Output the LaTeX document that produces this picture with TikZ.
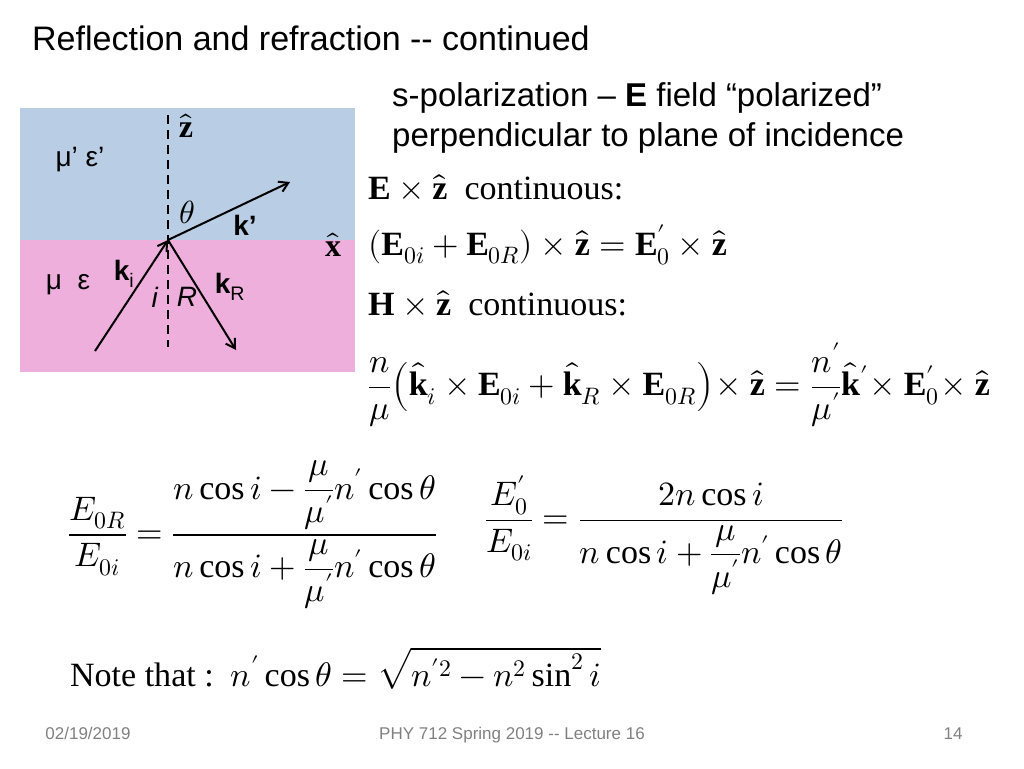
\documentclass[tikz,border=0pt]{standalone}
\usepackage{amsmath}
\usepackage{fontspec}
\usepackage{unicode-math}
\setmathfont{Latin Modern Math}
\setmainfont{Liberation Serif}
\setsansfont{Liberation Sans}
\usetikzlibrary{arrows.meta}
\definecolor{topc}{RGB}{185,205,228}
\definecolor{botc}{RGB}{238,175,220}
\tikzset{
 ray/.style={line width=2pt,-{Straight Barb[length=9pt,width=11pt]}},
 lab/.style={font=\sffamily\fontsize{28}{32}\selectfont,inner sep=0pt},
 eq/.style={anchor=west,inner sep=0pt,font=\fontsize{34}{38}\selectfont},
 foot/.style={font=\sffamily\fontsize{17}{20}\selectfont,text=gray,inner sep=0pt,anchor=base}
}
\newcommand{\vb}[1]{\mathbf{#1}}
\begin{document}
\begin{tikzpicture}[x=1pt,y=-1pt]
\useasboundingbox (0,0) rectangle (1024,768);
\fill[topc] (20,108) rectangle (355,240);
\fill[botc] (20,240) rectangle (355,372);
\coordinate (o) at (168,240);
\coordinate (zt) at (168,115);
\coordinate (zb) at (168,347);
\coordinate (kp) at (290,182);
\coordinate (ks) at (95,351);
\coordinate (kr) at (236,350);
\draw[dashed,line width=1.8pt,dash pattern=on 9pt off 6pt] (zt) -- (zb);
\draw[ray] (o) -- (kp);
\draw[ray] (ks) -- (o);
\draw[ray] (o) -- (kr);
\node[inner sep=0pt,font=\fontsize{32}{36}\selectfont] (zh) at (186,126) {$\hat{\mathbf z}$};
\node[inner sep=0pt,font=\fontsize{32}{36}\selectfont] (xh) at (333,245) {$\hat{\mathbf x}$};
\node[inner sep=0pt,font=\fontsize{32}{36}\selectfont] (th) at (187,212) {$\theta$};
\node[lab] (mp) at (80,160) {μ’ ε’};
\node[lab] (me) at (68,285) {μ\ \ ε};
\node[lab,font=\sffamily\bfseries\fontsize{28}{32}\selectfont] (kpl) at (245,225) {k’};
\node[lab] (kil) at (124,274) {\textbf{k}\textsubscript{i}};
\node[lab] (il) at (155,297) {\textit{i}};
\node[lab] (Rl) at (187,297) {\textit{R}};
\node[lab] (krl) at (230,287) {\textbf{k}\textsubscript{R}};
\node[anchor=west,inner sep=0pt,font=\sffamily\fontsize{34}{38}\selectfont] (title) at (32,38) {Reflection and refraction -{}- continued};
\node[anchor=west,inner sep=0pt,font=\sffamily\fontsize{33}{36}\selectfont] (s1) at (392,98) {s-polarization – \textbf{E} field “polarized”};
\node[anchor=west,inner sep=0pt,font=\sffamily\fontsize{33}{36}\selectfont] (s2) at (392,138) {perpendicular to plane of incidence};
\node[eq] (e1) at (368,187) {$\vb E\times\hat{\vb z}$\ \ continuous:};
\node[eq] (e2) at (368,245) {$\left(\vb E_{0i}+\vb E_{0R}\right)\times\hat{\vb z}=\vb E'_0\times\hat{\vb z}$};
\node[eq] (e3) at (368,303) {$\vb H\times\hat{\vb z}$\ \ continuous:};
\node[eq] (e4) at (368,385) {$\dfrac{n}{\mu}\!\left(\hat{\vb k}_i\times\vb E_{0i}+\hat{\vb k}_R\times\vb E_{0R}\right)\!\times\hat{\vb z}=\dfrac{n'}{\mu'}\hat{\vb k}'\!\times\vb E'_0\!\times\hat{\vb z}$};
\node[eq] (e5) at (68,535) {$\dfrac{E_{0R}}{E_{0i}}=\dfrac{n\cos i-\dfrac{\mu}{\mu'}n'\cos\theta}{n\cos i+\dfrac{\mu}{\mu'}n'\cos\theta}$};
\node[eq] (e6) at (485,535) {$\dfrac{E'_0}{E_{0i}}=\dfrac{2n\cos i}{n\cos i+\dfrac{\mu}{\mu'}n'\cos\theta}$};
\node[eq] (e7) at (70,668) {Note that :\ \ $n'\cos\theta=\sqrt{n'^2-n^2\sin^2 i}$};
\node[foot] (f1) at (88,739) {02/19/2019};
\node[foot] (f2) at (512,739) {PHY 712  Spring 2019 -{}- Lecture 16};
\node[foot] (f3) at (953,739) {14};
\end{tikzpicture}
\end{document}
